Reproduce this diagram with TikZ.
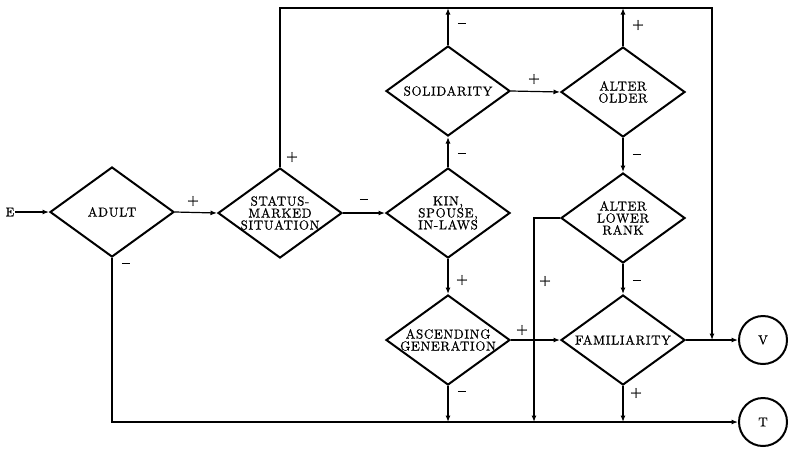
\documentclass[tikz,border=0pt]{standalone}
\usepackage{fontspec}
\usetikzlibrary{shapes.geometric,arrows.meta}
\newfontfamily\dfont{lmroman10-regular}[Extension=.otf,LetterSpace=5,FakeBold=0.6]
\newfontfamily\tfont{lmroman10-regular}[Extension=.otf,FakeBold=0.6]
\newfontfamily\sfont{lmroman10-bold}[Extension=.otf,FakeBold=1.5]
\newcommand\mns{\rule[3pt]{8.5pt}{1.7pt}}
\begin{document}
\begin{tikzpicture}[x=1pt,y=-1pt,
  dia/.style={diamond,draw,line width=2pt,inner sep=-14pt,minimum width=124pt,minimum height=90pt,
    align=center,font=\dfont\fontsize{13}{12}\selectfont},
  term/.style={circle,draw,line width=2pt,minimum size=48pt,inner sep=0pt,font=\tfont\fontsize{13}{12}\selectfont},
  conn/.style={line width=1.2pt},
  arr/.style={conn,-{Latex[length=6.5pt,width=5pt]}},
  sg/.style={font=\sfont\fontsize{13}{13}\selectfont,inner sep=0pt}]
\useasboundingbox (0,0) rectangle (791,451);
\node[font=\tfont\fontsize{12.5}{12}\selectfont,inner sep=1pt] (E) at (10,212) {E};
\node[dia] (adult) at (112,212) {ADULT};
\node[dia] (status) at (280,213) {STATUS-\\MARKED\\SITUATION};
\node[dia] (kin) at (448,213) {KIN,\\SPOUSE,\\IN-LAWS};
\node[dia] (sol) at (448,91) {SOLIDARITY};
\node[dia] (older) at (623,92) {ALTER\\OLDER};
\node[dia] (lower) at (623,218) {ALTER\\LOWER\\RANK};
\node[dia] (asc) at (448,340) {ASCENDING\\GENERATION};
\node[dia] (fam) at (623,340) {FAMILIARITY};
\node[term] (V) at (763,340) {V};
\node[term] (T) at (763,422) {T};
\coordinate (tl) at (280,8);
\coordinate (tr) at (712,8);
\coordinate (vj) at (712,340);
\coordinate (solTop) at (448,8);
\coordinate (oldTop) at (623,8);
\coordinate (bl) at (112,422);
\coordinate (lowL) at (534,218);
\coordinate (lowB) at (534,422);
\coordinate (ascB) at (448,422);
\coordinate (famB) at (623,422);
% connectors
\draw[arr] (E) -- (adult.west);
\draw[arr] (adult.east) -- (status.west);
\draw[arr] (status.east) -- (kin.west);
\draw[arr] (status.north) -- (tl) -- (tr) -- (vj);
\draw[arr] (sol.north) -- (solTop);
\draw[arr] (older.north) -- (oldTop);
\draw[arr] (kin.north) -- (sol.south);
\draw[arr] (sol.east) -- (older.west);
\draw[arr] (older.south) -- (lower.north);
\draw[arr] (lower.west) -- (lowL) -- (lowB);
\draw[arr] (lower.south) -- (fam.north);
\draw[arr] (kin.south) -- (asc.north);
\draw[arr] (asc.east) -- (fam.west);
\draw[arr] (fam.east) -- (V.west);
\draw[arr] (asc.south) -- (ascB);
\draw[arr] (fam.south) -- (famB);
\draw[arr] (adult.south) -- (bl) -- (T.west);
% signs
\node[sg] (s1) at (193,201) {+};
\node[sg] (s2) at (364,201) {\mns};
\node[sg] (s3) at (292,157) {+};
\node[sg] (s4) at (126,265) {\mns};
\node[sg] (s5) at (462,25) {\mns};
\node[sg] (s6) at (638,25) {+};
\node[sg] (s7) at (462,155) {\mns};
\node[sg] (s8) at (534,79) {+};
\node[sg] (s9) at (637,156) {\mns};
\node[sg] (s10) at (545,281) {+};
\node[sg] (s11) at (637,282) {\mns};
\node[sg] (s12) at (462,280) {+};
\node[sg] (s13) at (522,330) {+};
\node[sg] (s14) at (462,393) {\mns};
\node[sg] (s15) at (636,393) {+};
\end{tikzpicture}
\end{document}
